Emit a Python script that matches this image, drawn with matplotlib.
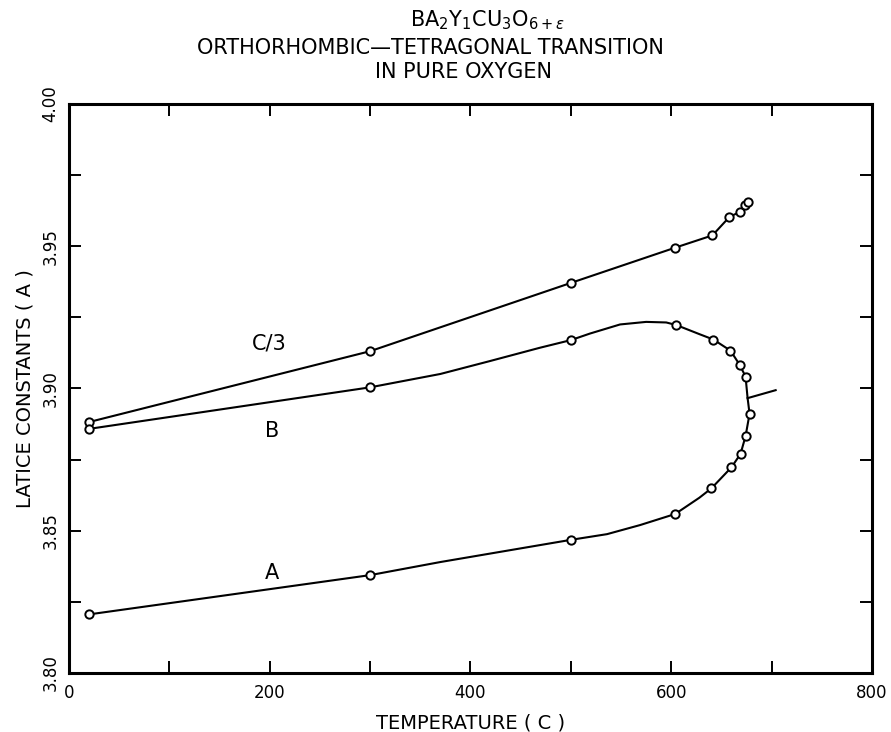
import numpy as np
import matplotlib
matplotlib.use("Agg")
import matplotlib.pyplot as plt
from matplotlib.ticker import MultipleLocator, FixedLocator

# Values
# C/3 curve (markers)
c3_temp = [20, 300, 500, 604, 641, 658, 668, 673, 676]
c3_latt = [3.8882, 3.9131, 3.9371, 3.9495, 3.9538, 3.9603, 3.9620, 3.9645, 3.9657]

# B branch going up to the transition, then A branch coming back down
b_temp = [20, 300, 500, 605, 642, 659, 668, 674, 678, 674, 669, 660]
b_latt = [3.8858, 3.9004, 3.9170, 3.9223, 3.9172, 3.9133, 3.9084, 3.9042,
          3.8911, 3.8832, 3.8770, 3.8723]
a_temp = [640, 604, 500, 300, 20]
a_latt = [3.8649, 3.8559, 3.8468, 3.8344, 3.8206]

curve_temp = [20, 300, 370, 419, 469, 500, 519, 549, 575, 595, 605, 628, 642, 659,
              668, 674, 676, 678, 674, 669, 660, 640, 628, 604, 569, 536, 500,
              370, 300, 20]
curve_latt = [3.8858, 3.9004, 3.9051, 3.9096, 3.9143, 3.9170, 3.9193, 3.9225,
              3.9234, 3.9232, 3.9223, 3.9191, 3.9172, 3.9133, 3.9084, 3.9042,
              3.8968, 3.8911, 3.8832, 3.8770, 3.8723, 3.8649, 3.8616, 3.8559,
              3.8520, 3.8488, 3.8468, 3.8390, 3.8344, 3.8206]

# tetragonal stub past the transition
tet_temp = [676, 704]
tet_latt = [3.8966, 3.8994]

labels = ["C/3", "B", "A"]
label_temp = [200, 202, 202]
label_latt = [3.9158, 3.8852, 3.8352]

y_ticks = [3.80, 3.85, 3.90, 3.95, 4.00]
x_ticks = [0, 200, 400, 600, 800]

fig = plt.figure(figsize=(8.91, 7.32), dpi=100)
ax = fig.add_axes([0.0774, 0.0806, 0.9013, 0.7774])

lw = 1.5
ax.plot(c3_temp, c3_latt, color="black", lw=lw)
ax.plot(curve_temp, curve_latt, color="black", lw=lw)
ax.plot(tet_temp, tet_latt, color="black", lw=lw)
mk = dict(ls="none", marker="o", ms=6, mfc="white", mec="black", mew=1.4)
ax.plot(c3_temp, c3_latt, **mk)
ax.plot(b_temp, b_latt, **mk)
ax.plot(a_temp, a_latt, **mk)

for t, x, y in zip(labels, label_temp, label_latt):
    ax.text(x, y, t, fontsize=15, ha="center", va="center")

ax.set_xlim(0, 800)
ax.set_ylim(3.80, 4.00)
ax.xaxis.set_major_locator(FixedLocator(x_ticks))
ax.xaxis.set_minor_locator(MultipleLocator(100))
ax.yaxis.set_major_locator(FixedLocator(y_ticks))
ax.yaxis.set_minor_locator(MultipleLocator(0.025))
ax.set_xticklabels([str(v) for v in x_ticks])
ax.set_yticklabels([f"{v:.2f}" for v in y_ticks], rotation=90, va="center")

ax.tick_params(which="both", direction="in", top=True, right=True,
               length=8.5, width=1.4, labelsize=12)
ax.tick_params(axis="x", pad=8)
ax.tick_params(axis="y", pad=7)
for s in ax.spines.values():
    s.set_linewidth(2.2)

ax.set_xlabel("TEMPERATURE ( C )", fontsize=14, labelpad=8)
ax.set_ylabel("LATICE CONSTANTS ( A )", fontsize=14, labelpad=5)

fig.text(0.547, 0.972, r"BA$_2$Y$_1$CU$_3$O$_{6+\epsilon}$", fontsize=15,
         ha="center", va="center")
fig.text(0.483, 0.934, "ORTHORHOMBIC\u2014TETRAGONAL TRANSITION", fontsize=15,
         ha="center", va="center")
fig.text(0.520, 0.902, "IN PURE OXYGEN", fontsize=15, ha="center", va="center")

fig.savefig("out.png", dpi=100)
